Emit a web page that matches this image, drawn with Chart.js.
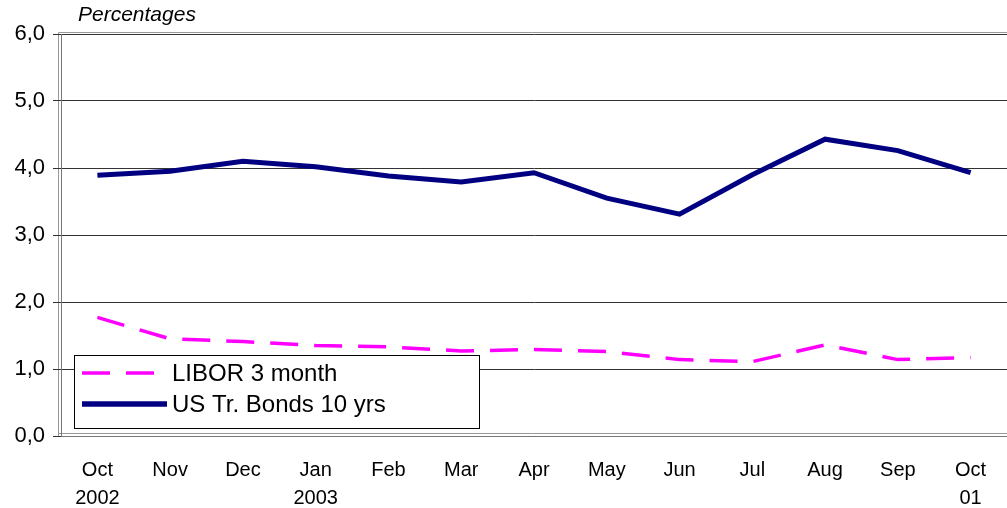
<!DOCTYPE html>
<html>
<head>
<meta charset="utf-8">
<script src="https://cdn.jsdelivr.net/npm/chart.js@4/dist/chart.umd.min.js"></script>
<style>
  html, body { margin: 0; padding: 0; background: #fff; overflow: hidden; }
</style>
</head>
<body>
<canvas id="chart" width="1007" height="508"></canvas>
<script>
const mesi = [["Oct", "2002"], "Nov", "Dec", ["Jan", "2003"], "Feb", "Mar", "Apr", "May", "Jun", "Jul", "Aug", "Sep", ["Oct", "01"]],
  libor = [1.77, 1.45, 1.41, 1.35, 1.33, 1.27, 1.29, 1.26, 1.14, 1.11, 1.36, 1.14, 1.17],
  bonds = [3.89, 3.95, 4.10, 4.02, 3.88, 3.79, 3.93, 3.55, 3.31, 3.90, 4.43, 4.26, 3.93],
  nomi = ["LIBOR 3 month", "US Tr. Bonds 10 yrs"],
  titolo = "Percentages";

const font = "'Liberation Sans', Arial, sans-serif";

const extra = {
  id: "extra",
  beforeDraw(chart) {
    const c = chart.ctx, a = chart.chartArea;
    c.save();
    c.strokeStyle = "#999";
    c.lineWidth = 1;
    c.beginPath();
    c.moveTo(a.left - 2.5, a.bottom + 0.5);
    c.lineTo(a.left - 2.5, a.top - 1.5);
    c.lineTo(chart.width, a.top - 1.5);
    c.moveTo(a.left - 2.5, a.bottom - 2.5);
    c.lineTo(chart.width, a.bottom - 2.5);
    c.stroke();
    c.restore();
  },
  afterDraw(chart) {
    const c = chart.ctx;
    c.save();
    c.font = "italic 21px " + font;
    c.fillStyle = "#000";
    c.textBaseline = "middle";
    c.fillText(titolo, 78, 15);
    // legenda dentro il grafico
    c.fillStyle = "#fff";
    c.fillRect(74, 355, 405, 73);
    c.strokeStyle = "#000";
    c.lineWidth = 1;
    c.strokeRect(74.5, 355.5, 405, 73);
    chart.data.datasets.forEach((ds, i) => {
      const y = 373 + i * 31;
      c.strokeStyle = ds.borderColor;
      c.lineWidth = i === 0 ? 3.5 : 5.5;
      c.setLineDash(ds.borderDash || []);
      c.beginPath();
      c.moveTo(82, y);
      c.lineTo(i === 0 ? 157 : 167, y);
      c.stroke();
      c.setLineDash([]);
      c.fillStyle = "#000";
      c.font = "24px " + font;
      c.fillText(ds.label, 172, y + 1);
    });
    c.restore();
  },
};

new Chart(document.getElementById("chart"), {
  type: "line",
  data: {
    labels: mesi,
    datasets: [
      { label: nomi[0], data: libor, borderColor: "#ff00ff", borderWidth: 3.5, borderDash: [28, 16], pointRadius: 0, tension: 0 },
      { label: nomi[1], data: bonds, borderColor: "#000080", borderWidth: 5, pointRadius: 0, tension: 0 },
    ],
  },
  options: {
    responsive: false,
    animation: false,
    devicePixelRatio: 1,
    layout: { padding: { top: 34, right: 0, left: 0, bottom: 0 } },
    plugins: { legend: { display: false }, tooltip: { enabled: false } },
    scales: {
      x: {
        offset: true,
        afterFit: (s) => { s.height = 72; },
        grid: { display: false },
        border: { color: "#777", width: 1 },
        ticks: { color: "#000", font: { family: font, size: 20, lineHeight: 1.4 }, padding: 12, maxRotation: 0, autoSkip: false },
      },
      y: {
        min: 0,
        max: 6,
        afterFit: (s) => { s.width = 61; },
        grid: { color: "#333", lineWidth: 1, tickLength: 8 },
        border: { color: "#777" },
        ticks: { stepSize: 1, color: "#000", font: { family: font, size: 22 }, padding: 8, callback: (v) => v.toFixed(1).replace(".", ",") },
      },
    },
  },
  plugins: [extra],
});
</script>
</body>
</html>
